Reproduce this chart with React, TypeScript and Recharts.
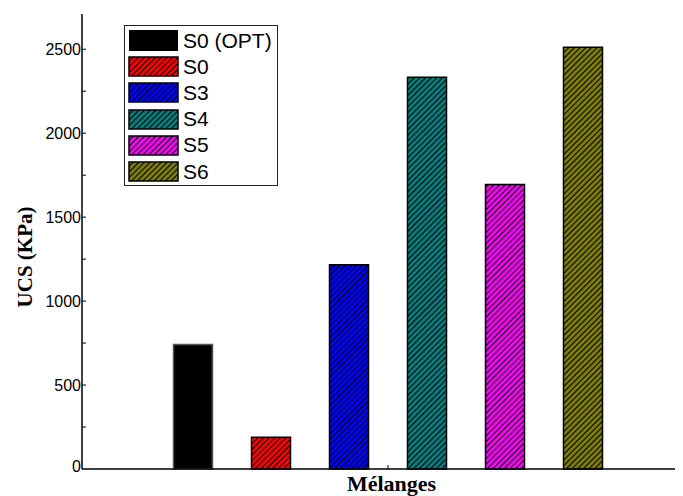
import React from 'react';
import { BarChart, Bar, XAxis, YAxis, Cell, Legend, Label } from 'recharts';

const categories = ['S0 (OPT)', 'S0', 'S3', 'S4', 'S5', 'S6'];
const ucsValues = [742, 189, 1216, 2333, 1695, 2512];
const barColors = ['#000000', '#ff0000', '#0000ff', '#008080', '#ff00ff', '#808000'];
const hatched = [false, true, true, true, true, true];
const yTicks = [0, 250, 500, 750, 1000, 1250, 1500, 1750, 2000, 2250, 2500];

const data = categories.map((name, i) => ({ name, value: ucsValues[i] }));

const fillFor = (i: number) => (hatched[i] ? `url(#hatch-${i})` : barColors[i]);

const YTick = (props: any) => {
  const { x, y, payload } = props;
  const v = payload.value as number;
  const major = v % 500 === 0;
  return (
    <g>
      {v !== 0 && <line x1={x} x2={x + 4} y1={y} y2={y} stroke="#000" strokeWidth={1} />}
      {major && (
        <text
          x={x - 1}
          y={v === 0 ? y - 3 : y}
          dy={6}
          textAnchor="end"
          fontSize={16}
          fontFamily="'Liberation Sans', Arial, sans-serif"
          fill="#000"
        >
          {v}
        </text>
      )}
    </g>
  );
};

const LegendBox = () => (
  <div
    style={{
      position: 'relative',
      width: 154,
      height: 161,
      border: '1.5px solid #222',
      boxSizing: 'border-box',
      background: '#fff',
      fontFamily: "'Liberation Sans', Arial, sans-serif",
    }}
  >
    {categories.map((c, i) => {
      const cy = 14.5 + 26.2 * i;
      const h = i === 0 ? 21 : 19;
      return (
        <div key={c}>
          <svg
            width={51}
            height={h + 2}
            style={{ position: 'absolute', left: 3, top: cy - h / 2 - 1 }}
          >
            <rect
              x={1}
              y={1}
              width={49}
              height={h}
              fill={fillFor(i)}
              stroke={i === 0 ? 'none' : '#000'}
              strokeWidth={1.5}
            />
          </svg>
          <div
            style={{
              position: 'absolute',
              left: 58,
              top: cy - 13,
              height: 26,
              lineHeight: '26px',
              fontSize: 21,
              color: '#000',
              whiteSpace: 'nowrap',
            }}
          >
            {c}
          </div>
        </div>
      );
    })}
  </div>
);

export default function App() {
  return (
    <BarChart
      width={675}
      height={488}
      data={data}
      margin={{ top: 6, right: 0, bottom: 0, left: 14 }}
    >
      <defs>
        {barColors.map((col, i) => (
          <pattern
            key={i}
            id={`hatch-${i}`}
            patternUnits="userSpaceOnUse"
            width={4}
            height={4}
            patternTransform="rotate(45)"
          >
            <rect x={0} y={0} width={4} height={4} fill={col} />
            <line x1={0} y1={0} x2={0} y2={4} stroke="#000" strokeWidth={2.2} />
          </pattern>
        ))}
      </defs>
      <XAxis
        dataKey="name"
        height={27}
        tick={false}
        tickLine={false}
        padding={{ left: 71.5, right: 61.5 }}
        axisLine={{ stroke: '#000', strokeWidth: 1.5 }}
      >
        <Label
          content={() => (
            <g>
              <line x1={380} x2={380} y1={461} y2={457} stroke="#000" strokeWidth={1} />
              <text
                x={383.5}
                y={483}
                textAnchor="middle"
                fontSize={22}
                fontWeight="bold"
                fontFamily="'Liberation Serif', 'Times New Roman', serif"
                fill="#000"
              >
                Mélanges
              </text>
            </g>
          )}
        />
      </XAxis>
      <YAxis
        width={60}
        domain={[0, 2710]}
        ticks={yTicks}
        interval={0}
        tickSize={0}
        tickMargin={0}
        tick={<YTick />}
        axisLine={{ stroke: '#000', strokeWidth: 1.5 }}
      >
        <Label
          content={() => (
            <text
              transform="translate(17,249) rotate(-90)"
              x={0}
              y={0}
              dy={7}
              textAnchor="middle"
              fontSize={21}
              fontWeight="bold"
              fontFamily="'Liberation Serif', 'Times New Roman', serif"
              fill="#000"
            >
              UCS (KPa)
            </text>
          )}
        />
      </YAxis>
      <Legend
        layout="vertical"
        align="center"
        verticalAlign="middle"
        content={() => <LegendBox />}
        wrapperStyle={{ position: 'absolute', left: 116, top: 17, width: 154, height: 161 }}
      />
      <Bar dataKey="value" barSize={39} isAnimationActive={false} stroke="#000" strokeWidth={1.5}>
        {data.map((d, i) => (
          <Cell key={d.name} fill={fillFor(i)} stroke={i === 0 ? '#555' : '#000'} />
        ))}
      </Bar>
    </BarChart>
  );
}
